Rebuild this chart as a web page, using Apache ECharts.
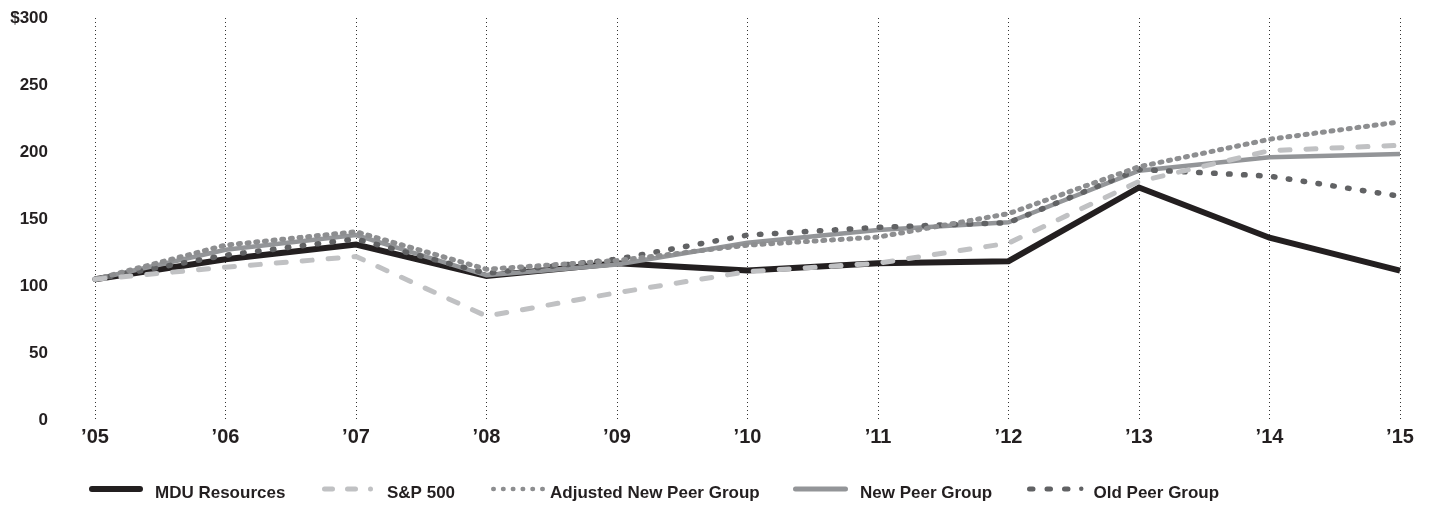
<!DOCTYPE html>
<html>
<head>
<meta charset="utf-8">
<script src="https://cdn.jsdelivr.net/npm/echarts@6/dist/echarts.min.js"></script>
<style>
html,body{margin:0;padding:0;background:#fff;}
#c{width:1431px;height:505px;}
</style>
</head>
<body>
<div id="c"></div>
<script>
var categories = ['’05','’06','’07','’08','’09','’10','’11','’12','’13','’14','’15'];
var yTicks = [0, 50, 100, 150, 200, 250, 300];
var mdu      = [105, 120, 131, 107.5, 117, 111.5, 117, 118.5, 173.5, 136, 111.5];
var sp500    = [105, 114, 122, 77.5, 95, 110.7, 117, 132, 178, 201, 205];
var adjusted = [105, 130.5, 140.5, 112.5, 119, 130.5, 136.5, 154, 189, 209.5, 222.5];
var newPeer  = [105, 127, 138, 108, 116, 132.3, 141.8, 147.5, 186, 196, 198.5];
var oldPeer  = [105, 123, 135, 109.5, 120, 138, 143.8, 147.3, 187, 182, 167];
var seriesNames = ['MDU Resources','S&P 500','Adjusted New Peer Group','New Peer Group','Old Peer Group'];

var chart = echarts.init(document.getElementById('c'));
var FONT = '"Liberation Sans", Arial, sans-serif';

// capsule / ellipse segment helper for legend icon paths
function cap(x, w, h) {
  var r = h / 2;
  if (w <= h) {
    var rx = w / 2;
    return 'M' + x + ',' + r + ' A' + rx + ',' + r + ' 0 1 1 ' + (x + w) + ',' + r +
           ' A' + rx + ',' + r + ' 0 1 1 ' + x + ',' + r + ' Z ';
  }
  return 'M' + (x + r) + ',0 L' + (x + w - r) + ',0 A' + r + ',' + r + ' 0 0 1 ' + (x + w - r) + ',' + h +
         ' L' + (x + r) + ',' + h + ' A' + r + ',' + r + ' 0 0 1 ' + (x + r) + ',0 Z ';
}
var LIFT = 9; // icon sits higher than the text centre
function pad(H) { // tiny invisible anchor extending the icon box downwards
  return 'M0,' + H + ' L0.01,' + H + ' L0.01,' + (H - 0.01) + ' Z';
}
var iconW = [54, 51, 54, 55, 56.5];
var shapeH = [6, 5, 4.5, 5, 5];
var icons = [
  cap(0, 54, 6),
  cap(0, 13, 5) + cap(23, 13, 5) + cap(46, 5, 5),
  cap(0, 5, 4.5) + cap(9.8, 5, 4.5) + cap(19.6, 5, 4.5) + cap(29.4, 5, 4.5) + cap(39.2, 5, 4.5) + cap(49, 5, 4.5),
  cap(0, 55, 5),
  cap(0, 8.5, 5) + cap(17.5, 8.5, 5) + cap(35, 8.5, 5) + cap(52, 4.5, 4.5)
];
var lefts = [89, 322, 491, 793, 1027];
var gaps = [12, 14, 5, 12, 10];

function leg(i) {
  var H = shapeH[i] + LIFT;
  return {
    data:[{name:seriesNames[i], icon:'path://' + icons[i] + pad(H)}], left:lefts[i], top:485,
    itemWidth:iconW[i], itemHeight:H, selectedMode:false, padding:0,
    textStyle:{color:'#231f20', fontFamily:FONT, fontWeight:'bold', fontSize:17,
      padding:[0, 0, 0, gaps[i] - 5]}
  };
}

chart.setOption({
  animation:false,
  backgroundColor:'#fff',
  grid:{left:95, right:31, top:18, bottom:85, containLabel:false},
  legend:[leg(0), leg(1), leg(2), leg(3), leg(4)],
  xAxis:{
    type:'category', data:categories, boundaryGap:false,
    axisLine:{show:false}, axisTick:{show:false},
    axisLabel:{color:'#231f20', fontFamily:FONT, fontWeight:'bold', fontSize:20, margin:7},
    splitLine:{show:true, lineStyle:{color:'#333', width:1, type:[1,3]}}
  },
  yAxis:{
    type:'value', min:0, max:300, interval:50,
    axisLine:{show:false}, axisTick:{show:false}, splitLine:{show:false},
    axisLabel:{color:'#231f20', fontFamily:FONT, fontWeight:'bold', fontSize:17, margin:47,
      formatter:function(v){ return v === 300 ? '$300' : String(v); }}
  },
  series:[
    {name:seriesNames[0], type:'line', data:mdu, symbol:'none', z:2,
      lineStyle:{color:'#231f20', width:6, cap:'butt', join:'miter'}, itemStyle:{color:'#231f20'}},
    {name:seriesNames[3], type:'line', data:newPeer, symbol:'none', z:3,
      lineStyle:{color:'#939598', width:4.5, join:'miter'}, itemStyle:{color:'#939598'}},
    {name:seriesNames[4], type:'line', data:oldPeer, symbol:'none', z:4,
      lineStyle:{color:'#616264', width:5.5, type:[1.5,13.5], cap:'round'}, itemStyle:{color:'#616264'}},
    {name:seriesNames[2], type:'line', data:adjusted, symbol:'none', z:5,
      lineStyle:{color:'#8d8e90', width:5, type:[2,6.7], cap:'round'}, itemStyle:{color:'#8d8e90'}},
    {name:seriesNames[1], type:'line', data:sp500, symbol:'none', z:6,
      lineStyle:{color:'#c0c1c3', width:5, type:[10,16], cap:'round'}, itemStyle:{color:'#c0c1c3'}}
  ]
});
</script>
</body>
</html>
